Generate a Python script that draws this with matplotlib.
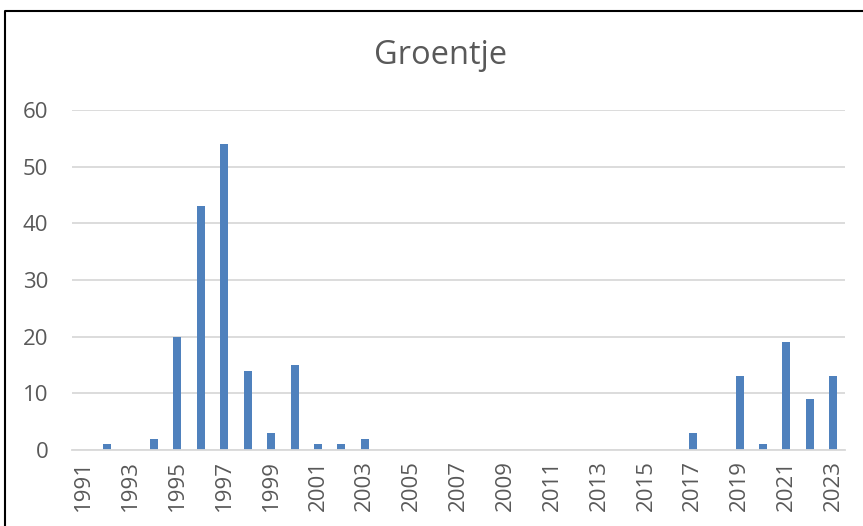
import matplotlib
matplotlib.use("Agg")
import matplotlib.pyplot as plt
from matplotlib.lines import Line2D

years = list(range(1991, 2024))
counts = [0, 1, 0, 2, 20, 43, 54, 14, 3, 15, 1, 1, 2,
          0, 0, 0, 0, 0, 0, 0, 0, 0, 0, 0, 0, 0,
          3, 0, 13, 1, 19, 9, 13]
tick_years = years[::2]
yticks = [0, 10, 20, 30, 40, 50, 60]

text_color = "#595959"
grid_color = "#d9d9d9"
bar_color = "#4f81bd"

plt.rcParams["font.family"] = ["Open Sans", "DejaVu Sans"]

fig = plt.figure(figsize=(8.63, 5.26), dpi=100)
ax = fig.add_axes([72 / 863, 1 - 450 / 526, (845 - 72) / 863, (450 - 110) / 526])

pos = list(range(len(years)))
ax.bar(pos, counts, width=0.34, color=bar_color, zorder=3)

ax.set_xlim(-0.5, len(years) - 0.5)
ax.set_ylim(0, 60)
ax.set_yticks(yticks)
ax.set_yticklabels([str(v) for v in yticks])
ax.set_xticks([years.index(y) for y in tick_years])
ax.set_xticklabels([str(y) for y in tick_years], rotation=90)

ax.tick_params(axis="y", length=0, pad=17, labelsize=16, labelcolor=text_color)
ax.tick_params(axis="x", length=0, pad=7, labelsize=16, labelcolor=text_color)

ax.grid(axis="y", color=grid_color, linewidth=1.3, zorder=0)
for side in ["left", "right", "top"]:
    ax.spines[side].set_visible(False)
ax.spines["bottom"].set_color(grid_color)
ax.spines["bottom"].set_linewidth(1.3)
ax.spines["bottom"].set_zorder(4)

fig.text(441 / 863, 1 - 56 / 526, "Groentje", ha="center", va="center",
         fontsize=23.5, color=text_color)

# chart frame, top and left edges
fig.add_artist(Line2D([5 / 863, 5 / 863, 1.0], [0.0, 1 - 11 / 526, 1 - 11 / 526],
                      transform=fig.transFigure, color="black", linewidth=1.5))

fig.savefig("out.png", dpi=100)
